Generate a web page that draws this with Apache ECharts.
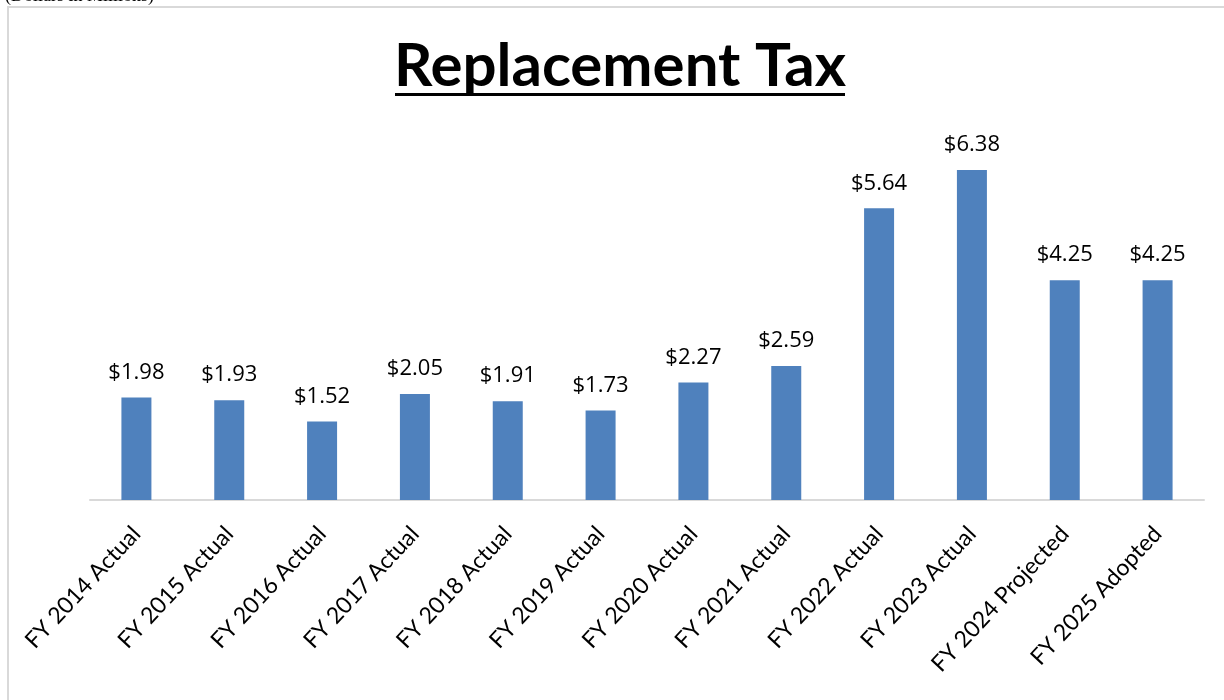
<!DOCTYPE html>
<html><head><meta charset="utf-8">
<script src="https://cdn.jsdelivr.net/npm/echarts@6/dist/echarts.min.js"></script>
<style>html,body{margin:0;padding:0;background:#fff}#c{width:1224px;height:700px}</style>
</head><body><div id="c"></div>
<script>
const categories = ['FY 2014 Actual','FY 2015 Actual','FY 2016 Actual','FY 2017 Actual','FY 2018 Actual','FY 2019 Actual','FY 2020 Actual','FY 2021 Actual','FY 2022 Actual','FY 2023 Actual','FY 2024 Projected','FY 2025 Adopted'];
const values = [1.98,1.93,1.52,2.05,1.91,1.73,2.27,2.59,5.64,6.38,4.25,4.25];
const titleText = 'Replacement Tax';

const chart = echarts.init(document.getElementById('c'));
chart.setOption({
  backgroundColor: '#fff',
  animation: false,
  graphic: [
    {type:'rect', shape:{x:8,y:7,width:1230,height:710}, style:{fill:'none',stroke:'#d9d9d9',lineWidth:2}, z:-1},
    {type:'text', left:5, top:-13, style:{text:'(Dollars in Millions)', font:'18px "Liberation Serif"', fill:'#000'}},
    {type:'text', x:620, y:37, style:{text:titleText, font:'bold 60px Lato', fill:'#000', textAlign:'center', textVerticalAlign:'top'}},
    {type:'rect', shape:{x:395,y:93,width:450,height:3}, style:{fill:'#000'}}
  ],
  grid: {left:90, right:20, top:138, bottom:200},
  xAxis: {
    type:'category', data:categories,
    axisLine:{lineStyle:{color:'#d9d9d9',width:2}},
    axisTick:{show:false},
    axisLabel:{rotate:47, interval:0, color:'#000', fontSize:23, fontFamily:'Lato', margin:30}
  },
  yAxis: {type:'value', min:0, max:7, show:false, splitLine:{show:false}},
  series: [{
    type:'bar', data:values, barWidth:30,
    itemStyle:{color:'#4f81bd'},
    label:{show:true, position:'top', distance:14, color:'#000', fontSize:22, fontFamily:'"Open Sans"',
      formatter: p => '$' + p.value.toFixed(2)}
  }]
});
</script></body></html>
